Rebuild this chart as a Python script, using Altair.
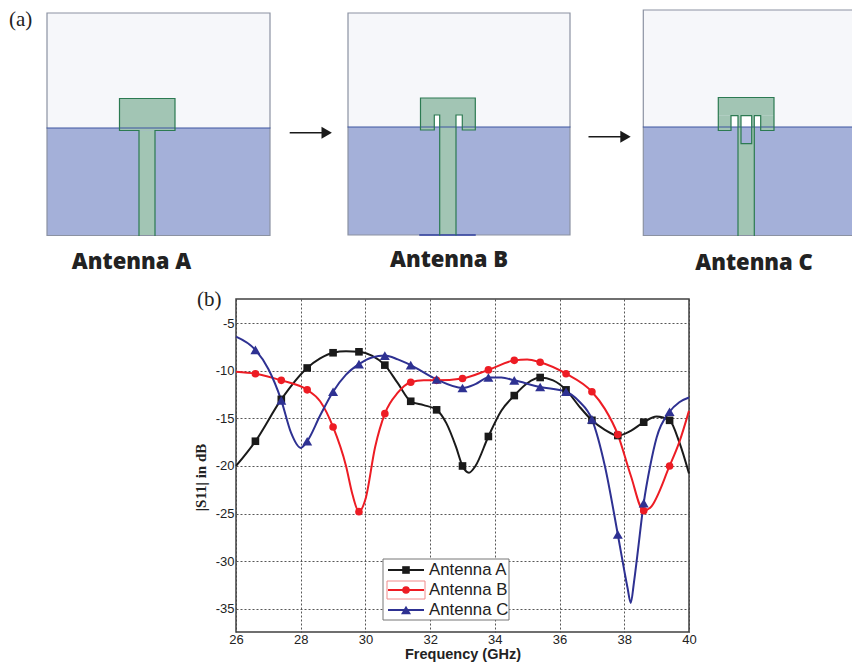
import altair as alt
import pandas as pd

# ---------- S11 curves (GHz, dB) ----------
a_x = [26,26.6,27.4,28.2,28.6,29,29.4,29.8,30.2,30.6,31,31.4,31.8,32.2,32.5,32.8,33,33.2,33.4,33.8,34.2,34.6,35,35.4,35.8,36.2,36.6,37,37.4,37.8,38.2,38.6,39,39.4,39.7,40]
a_y = [-20,-17.4,-13,-9.7,-8.7,-8.1,-7.95,-8,-8.4,-9.4,-11.3,-13.2,-13.6,-14.1,-15.5,-18,-20,-20.7,-20,-16.9,-14.2,-12.6,-11.3,-10.7,-11,-12,-13.7,-15.2,-16.2,-16.8,-16.3,-15.4,-14.8,-15.2,-17.5,-20.8]
b_x = [26,26.6,27.4,28.2,28.6,29,29.4,29.6,29.8,30,30.3,30.6,31,31.4,31.8,32.2,33,33.8,34.6,35,35.4,36.2,37,37.4,37.8,38.2,38.6,38.8,39.4,39.7,40]
b_y = [-10.1,-10.3,-11,-12,-13.2,-15.9,-20,-23,-24.8,-23.5,-18,-14.5,-12.3,-11.2,-11,-11,-10.8,-9.9,-8.9,-8.8,-9.1,-10.3,-12.2,-14,-16.7,-21,-24.7,-24.4,-20,-17.5,-14.2]
c_x = [26,26.6,27,27.4,27.7,28,28.2,28.6,29,29.4,29.8,30.2,30.6,31,31.4,32.2,33,33.4,33.8,34.2,34.6,35.4,36.2,36.6,37,37.4,37.8,38,38.1,38.2,38.3,38.4,38.6,38.8,39,39.4,39.7,40]
c_y = [-6.4,-7.8,-9.8,-13.1,-16.5,-18.1,-17.4,-14.7,-12.2,-10.4,-9.3,-8.6,-8.4,-8.8,-9.4,-10.9,-11.8,-11.4,-10.7,-10.7,-11,-11.7,-12.2,-13.2,-15.1,-20,-27.2,-31,-32.8,-34.4,-32.2,-29.5,-23.9,-20,-17,-14.3,-13.3,-12.8]
marker_x = [26.6,27.4,28.2,29,29.8,30.6,31.4,32.2,33,33.8,34.6,35.4,36.2,37,37.8,38.6,39.4]

series_names = ["Antenna A", "Antenna B", "Antenna C"]
series_colors = ["#1a1a1a", "#ed1c24", "#2e3192"]
series_shapes = ["square", "circle", "triangle-up"]
series_sizes = [58, 58, 100]
x_ticks = [26,28,30,32,34,36,38,40]
y_ticks = [-5,-10,-15,-20,-25,-30,-35]

# ---------- schematic geometry (picture units) ----------
LIGHT, BLUE, GREEN, EDGE, FRAME, HORIZON = "#f6f7fa", "#a4b0d9", "#a2c5b4", "#2c7a52", "#8b92a2", "#3d55a0"
fills = [
    (47,270,13,128,LIGHT),(47,270,128,235.5,BLUE),(119.5,175,98.5,130.5,GREEN),(139,155,130.5,235.5,GREEN),
    (348,570,13,127,LIGHT),(348,570,127,235,BLUE),(420.5,475.3,98,115,GREEN),(420.5,434.3,115,130,GREEN),
    (462.3,475.3,115,130,GREEN),(439.7,456,115,235,GREEN),(434.3,439.7,115,127,"#ffffff"),(456,462.3,115,127,"#ffffff"),
    (643.3,870,10,127,LIGHT),(643.3,870,127,235.5,BLUE),(718.3,774,97.5,115.7,GREEN),(718.3,731,115.7,130.5,GREEN),
    (760.7,774,115.7,130.5,GREEN),(738,754.3,115.7,235.5,GREEN),(731,738,115.7,127,"#ffffff"),(754.3,760.7,115.7,127,"#ffffff"),
    (741,751.7,115.7,127,"#ffffff"),(741,751.7,127,143.7,BLUE),
]
paths = [
    ([(47,128),(47,13),(270,13),(270,235.5),(47,235.5),(47,128)],FRAME,1.2),
    ([(47,128),(270,128)],HORIZON,1),
    ([(139,235.5),(139,130.5),(119.5,130.5),(119.5,98.5),(175,98.5),(175,130.5),(155,130.5),(155,235.5)],EDGE,1.2),
    ([(348,235),(348,13),(570,13),(570,235),(348,235)],FRAME,1.2),
    ([(348,127),(570,127)],HORIZON,1),
    ([(420,235),(475,235)],"#2f3fa0",1.5),
    ([(439.7,235),(439.7,115),(434.3,115),(434.3,130),(420.5,130),(420.5,98),(475.3,98),(475.3,130),(462.3,130),(462.3,115),(456,115),(456,235)],EDGE,1.2),
    ([(870,10),(643.3,10),(643.3,235.5),(870,235.5)],FRAME,1.2),
    ([(643.3,127),(870,127)],HORIZON,1),
    ([(738,235.5),(738,115.7),(731,115.7),(731,130.5),(718.3,130.5),(718.3,97.5),(774,97.5),(774,130.5),(760.7,130.5),(760.7,115.7),(754.3,115.7),(754.3,235.5)],EDGE,1.2),
    ([(741,115.7),(741,143.7),(751.7,143.7),(751.7,115.7),(741,115.7)],EDGE,1.2),
    ([(290.5,132.7),(322,132.7)],"#1a1a1a",1.6),
    ([(589.3,136.7),(621,136.7)],"#1a1a1a",1.6),
]
arrow_heads = [(326.7,132.7),(625.5,136.7)]
caption_text = [(131.5,262,"Antenna A"),(449,260,"Antenna B"),(754,263,"Antenna C")]
panel_text = [(9,26,"(a)"),(197,306,"(b)")]

# legend
legend_box = [(383,509,559,620)]
legend_select = [(387,425,581,599)]
legend_rows = [570,590,610]
legend_line_x = (388,424)
legend_marker_x = 406
legend_text_x = 429

# ---------- scales ----------
PX_X = alt.Scale(domain=[236,689], range=[0,453])
PX_Y = alt.Scale(domain=[299,632], range=[0,333])
F_X = alt.Scale(domain=[26,40], range=[0,453])
F_Y = alt.Scale(domain=[-37.45,-2.45], range=[333,0])

def px(name): return alt.X(name, type="quantitative", scale=PX_X, axis=None)
def py(name): return alt.Y(name, type="quantitative", scale=PX_Y, axis=None)
def x2(name): return alt.X2(name)
def y2(name): return alt.Y2(name)

layers = []

# schematic fills
fdf = pd.DataFrame(fills, columns=["x","x2","y","y2","fill"])
for _, r in fdf.iterrows():
    layers.append(alt.Chart(pd.DataFrame([r.to_dict()])).mark_rect(fill=r["fill"], strokeWidth=0).encode(
        x=px("x"), x2=x2("x2"), y=py("y"), y2=y2("y2")))

# schematic outlines
for pts, col, w in paths:
    d = pd.DataFrame([{"x":p[0],"y":p[1],"i":i} for i,p in enumerate(pts)])
    layers.append(alt.Chart(d).mark_line(color=col, strokeWidth=w, strokeCap="square", strokeJoin="miter", clip=False).encode(
        x=px("x"), y=py("y"), order="i:Q"))

layers.append(alt.Chart(pd.DataFrame(arrow_heads, columns=["x","y"])).mark_point(
    shape="triangle-right", filled=True, size=144, color="#1a1a1a", opacity=1).encode(x=px("x"), y=py("y")))

layers.append(alt.Chart(pd.DataFrame(caption_text, columns=["x","y","t"])).mark_text(
    font="Open Sans", fontWeight=800, fontSize=22, color="#222222", align="center", baseline="middle").encode(
    x=px("x"), y=py("y"), text="t:N"))
layers.append(alt.Chart(pd.DataFrame(panel_text, columns=["x","y","t"])).mark_text(
    font="Liberation Serif", fontSize=21, color="#222222", align="left", baseline="alphabetic").encode(
    x=px("x"), y=py("y"), text="t:N"))

# axes + grid layer
axis_x = alt.Axis(values=x_ticks, grid=True, gridColor="#444444", gridDash=[2,2], gridWidth=0.9, domain=False, ticks=False,
                  labelFont="Liberation Sans", labelFontSize=13, labelColor="#222222", labelPadding=1, labelFlush=False, format="d",
                  title="Frequency (GHz)", titleFont="Liberation Sans", titleFontWeight="bold", titleFontSize=14.5,
                  titleColor="#222222", titlePadding=1)
axis_y = alt.Axis(values=y_ticks, grid=True, gridColor="#444444", gridDash=[2,2], gridWidth=0.9, domain=False, ticks=False,
                  labelFont="Liberation Sans", labelFontSize=13, labelColor="#222222", labelPadding=2,
                  labelExpr="datum.value + ''",
                  title="|S11| in dB", titleFont="Liberation Serif", titleFontWeight="bold", titleFontSize=15,
                  titleColor="#222222", titleX=-28, titleY=178)

curves = [(a_x,a_y),(b_x,b_y),(c_x,c_y)]
for i,(xs,ys) in enumerate(curves):
    d = pd.DataFrame({"f":xs,"s":ys})
    kw = dict(axis=axis_x) if i == 0 else dict(axis=None)
    kwy = dict(axis=axis_y) if i == 0 else dict(axis=None)
    layers.append(alt.Chart(d).mark_line(color=series_colors[i], strokeWidth=2, interpolate="monotone").encode(
        x=alt.X("f:Q", scale=F_X, **kw), y=alt.Y("s:Q", scale=F_Y, **kwy)))
for i,(xs,ys) in enumerate(curves):
    lookup = dict(zip(xs,ys))
    d = pd.DataFrame({"f":marker_x,"s":[lookup[m] for m in marker_x]})
    layers.append(alt.Chart(d).mark_point(shape=series_shapes[i], filled=True, size=series_sizes[i], color=series_colors[i], opacity=1).encode(
        x=alt.X("f:Q", scale=F_X, axis=None), y=alt.Y("s:Q", scale=F_Y, axis=None)))

# legend
layers.append(alt.Chart(pd.DataFrame(legend_box, columns=["x","x2","y","y2"])).mark_rect(fill="#ffffff", stroke="#777777", strokeWidth=1).encode(
    x=px("x"), x2=x2("x2"), y=py("y"), y2=y2("y2")))
layers.append(alt.Chart(pd.DataFrame(legend_select, columns=["x","x2","y","y2"])).mark_rect(fill="#ffffff", stroke="#f08a8a", strokeWidth=1).encode(
    x=px("x"), x2=x2("x2"), y=py("y"), y2=y2("y2")))
for i,yr in enumerate(legend_rows):
    d = pd.DataFrame({"x":list(legend_line_x),"y":[yr,yr]})
    layers.append(alt.Chart(d).mark_line(color=series_colors[i], strokeWidth=2).encode(x=px("x"), y=py("y")))
    d = pd.DataFrame({"x":[legend_marker_x],"y":[yr]})
    layers.append(alt.Chart(d).mark_point(shape=series_shapes[i], filled=True, size=series_sizes[i], color=series_colors[i], opacity=1).encode(x=px("x"), y=py("y")))
    d = pd.DataFrame({"x":[legend_text_x],"y":[yr],"t":[series_names[i]]})
    layers.append(alt.Chart(d).mark_text(font="Liberation Sans", fontSize=16.8, color="#222222", align="left", baseline="middle").encode(
        x=px("x"), y=py("y"), text="t:N"))

chart = alt.layer(*layers).resolve_scale(x="independent", y="independent").properties(
    width=453, height=333, background="#ffffff",
    autosize=alt.AutoSizeParams(type="none"),
    padding={"left":228,"top":291,"right":163,"bottom":30},
).configure_view(stroke="#404040", strokeWidth=1.5)

chart.save("out.html", embed_options={"renderer": "svg", "actions": False})
